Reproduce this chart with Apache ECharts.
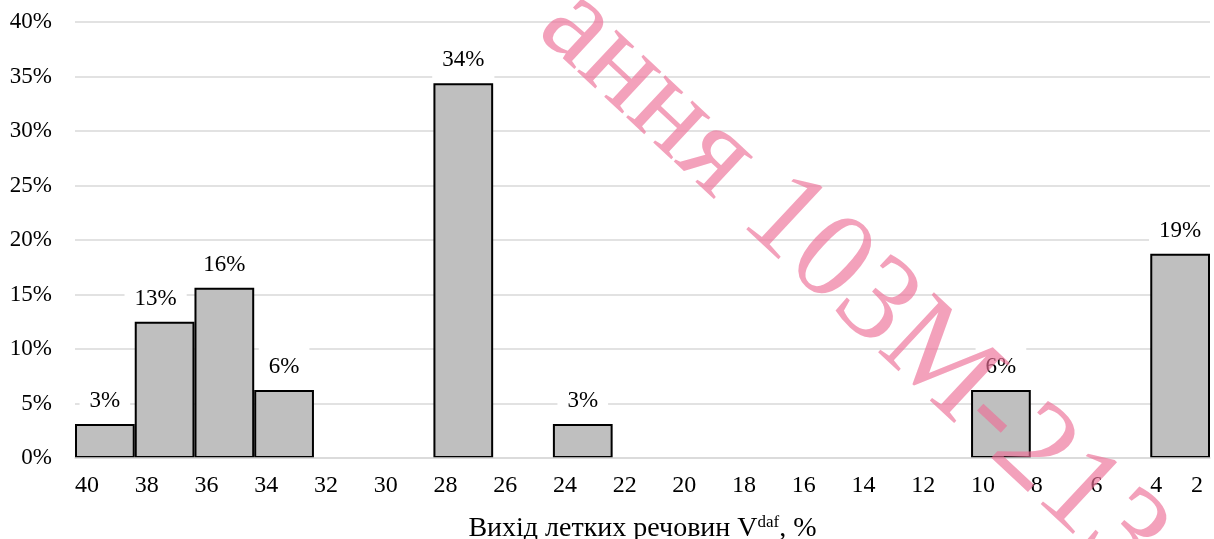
<!DOCTYPE html>
<html>
<head>
<meta charset="utf-8">
<title>Вихід летких речовин</title>
<script src="https://cdn.jsdelivr.net/npm/echarts@6/dist/echarts.min.js"></script>
<style>
  html, body { margin: 0; padding: 0; background: #ffffff; }
  #chart { width: 1214px; height: 539px; }
</style>
</head>
<body>
<div id="chart"></div>
<script>
// Histogram bins (left edge of each 2-point interval), from high to low volatile matter
const categories = ['40', '38', '36', '34', '32', '30', '28', '26', '24', '22',
                    '20', '18', '16', '14', '12', '10', '8', '6', '4'];
// Share of samples in each bin, %
const shares = [3.125, 12.5, 15.625, 6.25, null, null, 34.375, null, 3.125, null,
                null, null, null, null, null, 6.25, null, null, 18.75];
// Bin edge labels along the horizontal axis
const edgeTicks = [40, 38, 36, 34, 32, 30, 28, 26, 24, 22, 20, 18, 16, 14, 12, 10, 8, 6, 4, 2];
// Vertical axis ticks, %
const yTicks = [0, 5, 10, 15, 20, 25, 30, 35, 40];

const FONT = '"Liberation Serif", "Times New Roman", serif';
const GRID_COLOR = '#d9d9d9';

const edgeMin = Math.min(...edgeTicks);
const edgeMax = Math.max(...edgeTicks);
const edgeStep = edgeTicks[0] - edgeTicks[1];

const chart = echarts.init(document.getElementById('chart'), null, { renderer: 'canvas' });

const barData = shares.map((v, i) => {
  if (v === null) return '-';
  const item = { value: v };
  if (categories[i] === '38') item.label = { offset: [-9, 0] };
  return item;
});

const edgeAxisBase = {
  type: 'value',
  position: 'bottom',
  min: edgeMin,
  max: edgeMax,
  interval: edgeStep,
  inverse: true,
  axisLine: { show: false },
  axisTick: { show: false },
  splitLine: { show: false }
};

chart.setOption({
  animation: false,
  backgroundColor: '#ffffff',
  textStyle: { fontFamily: FONT },
  grid: {
    left: 75, right: 4, top: 22, bottom: 81,
    containLabel: false,
    outerBoundsMode: 'none'
  },
  xAxis: [
    {
      type: 'category',
      data: categories,
      boundaryGap: true,
      z: 3,
      axisLine: { show: true, lineStyle: { color: GRID_COLOR, width: 1.5 } },
      axisTick: { show: false },
      axisLabel: { show: false },
      name: '{a|Вихід летких речовин V}{s|daf}{a|, %}',
      nameLocation: 'middle',
      nameGap: 56,
      nameTextStyle: {
        rich: {
          a: { fontFamily: FONT, fontSize: 28, color: '#000', lineHeight: 30 },
          s: { fontFamily: FONT, fontSize: 17, color: '#000', lineHeight: 30, verticalAlign: 'top', padding: [0, 0, 11, 0] }
        }
      }
    },
    Object.assign({}, edgeAxisBase, {
      axisLabel: {
        show: true,
        align: 'left',
        margin: 16,
        fontFamily: FONT,
        fontSize: 24,
        color: '#000',
        formatter: v => (v === edgeMin ? '' : String(v))
      }
    }),
    Object.assign({}, edgeAxisBase, {
      axisLabel: {
        show: true,
        align: 'right',
        margin: 16,
        padding: [0, 7, 0, 0],
        fontFamily: FONT,
        fontSize: 24,
        color: '#000',
        formatter: v => (v === edgeMin ? String(v) : '')
      }
    })
  ],
  yAxis: {
    type: 'value',
    min: yTicks[0],
    max: yTicks[yTicks.length - 1],
    interval: yTicks[1] - yTicks[0],
    axisLine: { show: false },
    axisTick: { show: false },
    splitLine: { show: true, lineStyle: { color: GRID_COLOR, width: 1.5 } },
    axisLabel: {
      margin: 23,
      fontFamily: FONT,
      fontSize: 23,
      color: '#000',
      formatter: '{value}%'
    }
  },
  series: [
    {
      type: 'bar',
      xAxisIndex: 0,
      data: barData,
      barCategoryGap: '0%',
      itemStyle: { color: '#bfbfbf', borderColor: '#000000', borderWidth: 2 },
      label: {
        show: true,
        position: 'top',
        distance: 4,
        fontFamily: FONT,
        fontSize: 23,
        lineHeight: 20,
        color: '#000',
        backgroundColor: '#ffffff',
        padding: [9, 10],
        formatter: p => Math.round(p.value) + '%'
      }
    }
  ],
  graphic: [
    {
      type: 'text',
      silent: true,
      z: 100,
      x: 852,
      y: 283,
      rotation: -43 * Math.PI / 180,
      style: {
        text: 'ання 103М-213',
        font: '125px "Liberation Serif", "Times New Roman", serif',
        fill: 'rgba(236, 110, 150, 0.65)',
        align: 'center',
        verticalAlign: 'middle'
      }
    }
  ]
});
</script>
</body>
</html>
